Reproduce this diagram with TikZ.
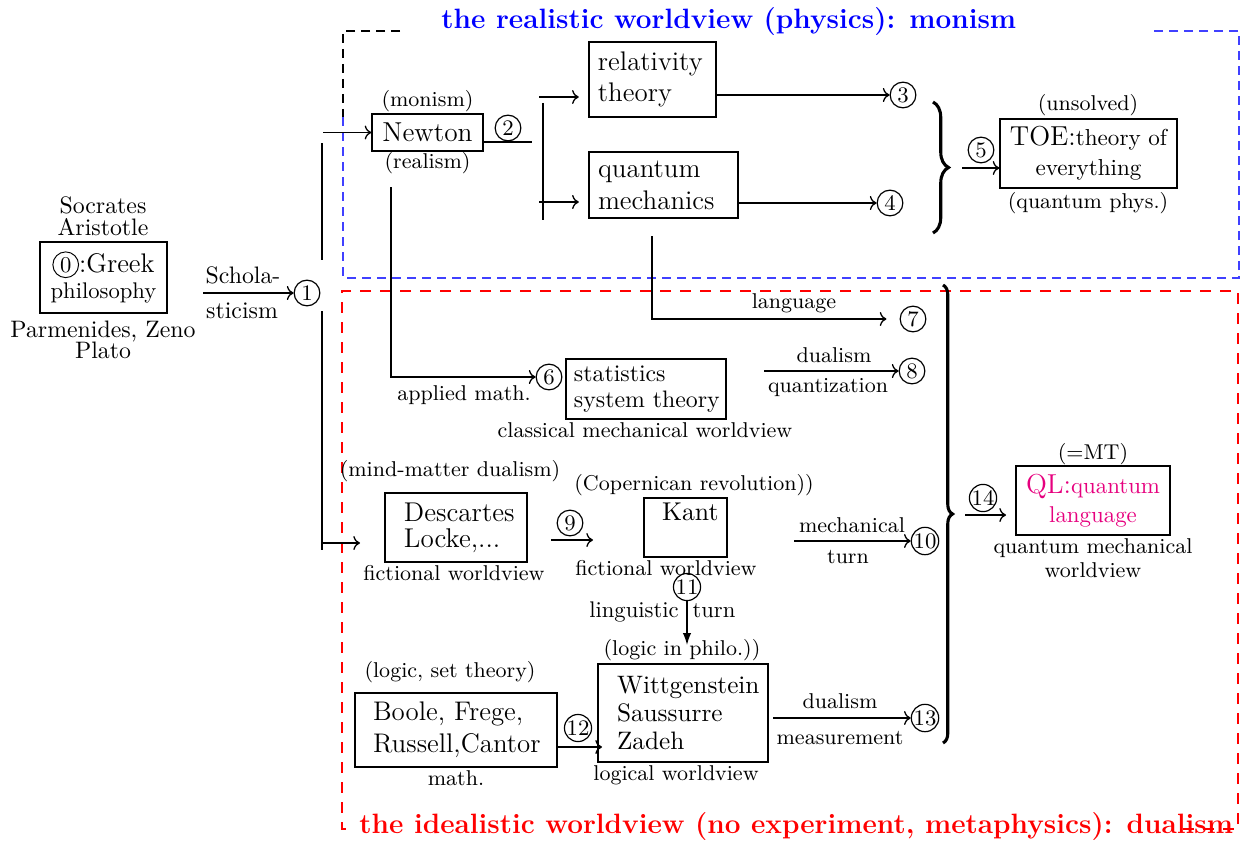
\documentclass[tikz,border=0pt]{standalone}
\usetikzlibrary{arrows.meta,decorations.pathreplacing}
\definecolor{qlcol}{RGB}{230,0,126}
\newcommand\fs[2]{\fontsize{#1}{#2}\selectfont}
\newcommand\circz{\tikz[baseline=(cz.base)]\node[circle,draw,inner sep=0pt,minimum size=10.8pt,anchor=center,font=\fs{9.5}{10}](cz){0};}
\begin{document}
\begin{tikzpicture}[x=0.42pt,y=-0.42pt,
  box/.style={draw,line width=0.55pt},
  num/.style={circle,draw,line width=0.5pt,inner sep=0pt,minimum size=10.8pt,font=\fs{9.3}{10}},
  lab/.style={inner sep=0pt,anchor=base,font=\fs{9}{10.5}},
  nlab/.style={inner sep=0pt,anchor=base,font=\fs{10}{12}},
  conn/.style={->,line width=0.55pt},
  plain/.style={line width=0.55pt},
  bigbrace/.style={decorate,line width=1.3pt},
  titlefont/.style={anchor=base west,inner sep=0pt,font=\fs{11.75}{14}\bfseries}
]
\useasboundingbox (0,0) rectangle (1245,846);

% frames
\draw[black,line width=0.5pt,dash pattern=on 3.9pt off 2.4pt] (400,31) -- (343,31) -- (343,117);
\draw[blue!75,line width=0.6pt,dash pattern=on 3.9pt off 2.4pt] (343,117) -- (343,278) -- (1239,278) -- (1239,31) -- (1152,31);
\draw[red,line width=1pt,dash pattern=on 4.8pt off 3.6pt] (1183,829) -- (1238,829) -- (1238,291) -- (342,291) -- (342,829) -- (352,829);
\node[titlefont,text=blue] (ttop) at (441,29) {the realistic worldview (physics): monism};
\node[titlefont,text=red] (tbot) at (359,833) {the idealistic worldview (no experiment, metaphysics): dualism};

% left part
\node[nlab] (socr) at (103,213) {Socrates};
\node[nlab] (arist) at (103,235) {Aristotle};
\node[box,minimum width=53.3pt,minimum height=29.8pt,inner sep=0pt,align=center,font=\fs{11.3}{11.3}] (greek) at (103.5,277.5) {\circz:Greek\\{\fs{9.5}{11.3}philosophy}};
\node[nlab] (parm) at (103,337) {Parmenides, Zeno};
\node[nlab] (plato) at (103,358) {Plato};
\node[num] (c1) at (307,293) {1};
\coordinate (a1) at (203,293);
\draw[conn] (a1) -- (c1);
\node[nlab] (schola) at (243,283) {Schola-};
\node[nlab] (stic) at (242,318) {sticism};

\coordinate (v1a) at (322,143); \coordinate (v1b) at (322,260);
\coordinate (v2a) at (322,311); \coordinate (v2b) at (322,550);
\draw[plain] (v1a) -- (v1b);
\draw[plain] (v2a) -- (v2b);

% physics
\node[box,minimum width=46.6pt,minimum height=15.5pt,inner sep=0pt,font=\fs{11.5}{13}] (newton) at (427.5,132.5) {Newton};
\node[lab] (monism) at (427.5,107) {(monism)};
\node[lab] (realism) at (427.5,168) {(realism)};
\coordinate (an) at (323,132.5);
\draw[conn] (an) -- (newton.west);
\coordinate (n2) at (532,142);
\draw[plain] (newton.east |- n2) -- (n2);
\node[num] (c2) at (508,128) {2};
\coordinate (s1) at (543,103); \coordinate (s2) at (543,220);
\draw[plain] (s1) -- (s2);

\node[box,text width=45.8pt,inner xsep=3.8pt,inner ysep=0pt,minimum height=31.5pt,align=left,font=\fs{11.3}{13}] (rel) at (652.5,79.5) {\mbox{relativity}\\theory};
\node[box,text width=55pt,inner xsep=3.8pt,inner ysep=0pt,minimum height=27.7pt,align=left,font=\fs{11.3}{13.4}] (qm) at (663.5,185) {quantum\\\mbox{mechanics}};
\coordinate (r1) at (539,97); \coordinate (q1) at (539,202);
\draw[conn,shorten >=4pt] (r1) -- (rel.west |- r1);
\draw[conn,shorten >=4pt] (q1) -- (qm.west |- q1);
\node[num] (c3) at (903,95) {3};
\node[num] (c4) at (890,203) {4};
\draw[conn] (rel.east |- c3) -- (c3);
\draw[conn] (qm.east |- c4) -- (c4);
\coordinate (b1t) at (933,102); \coordinate (b1b) at (933,233);
\draw[bigbrace,decoration={brace,amplitude=6.5pt}] (b1t) -- (b1b);
\node[box,minimum width=74.3pt,minimum height=29pt,inner sep=0pt,align=center,font=\fs{11.5}{12.6}] (toe) at (1088.5,153.5) {TOE:{\fs{9.7}{12.6}theory of}\\{\fs{9.7}{12.6}everything}};
\node[lab] (unsolved) at (1088,110) {(unsolved)};
\node[lab] (qphys) at (1088,208) {(quantum phys.)};
\coordinate (a5) at (962,168);
\draw[conn] (a5) -- (toe.west |- a5);
\node[num] (c5) at (981,150) {5};

% idealistic part
\coordinate (nv) at (391,187);
\node[num] (c6) at (549,377) {6};
\draw[conn] (nv) |- (c6);
\node[lab] (appl) at (464,400) {applied math.};
\node[box,text width=60.5pt,inner xsep=3.4pt,inner ysep=0pt,minimum height=25.2pt,align=left,font=\fs{10}{10.9}] (stat) at (646,389) {statistics\\\mbox{system theory}};
\node[lab] (classic) at (645,437) {classical mechanical worldview};

\coordinate (qv) at (652,236);
\node[num] (c7) at (913,319) {7};
\draw[conn,shorten >=5.5pt] (qv) |- (c7);
\node[lab] (lang) at (794,308) {language};

\coordinate (a8) at (764,371);
\node[num] (c8) at (912,371) {8};
\draw[conn] (a8) -- (c8);
\node[lab] (dual1) at (834,362) {dualism};
\node[lab] (quant) at (828,392) {quantization};

\node[lab] (mind) at (450,476) {(mind-matter dualism)};
\node[box,text width=43.7pt,inner xsep=8pt,inner ysep=0pt,minimum height=29pt,align=left,font=\fs{11.4}{10.9}] (desc) at (456,527.5) {\mbox{Descartes}\\\mbox{Locke,...}};
\node[lab] (fict1) at (454,580) {fictional worldview};
\coordinate (ad1) at (322,543); \coordinate (ad2) at (360,543);
\draw[conn] (ad1) -- (ad2);
\coordinate (a9s) at (551,540); \coordinate (a9e) at (593,540);
\draw[conn] (a9s) -- (a9e);
\node[num] (c9) at (570,523) {9};
\node[lab] (coper) at (694,490) {(Copernican revolution))};
\node[box,minimum width=34.9pt,minimum height=24.8pt,inner sep=0pt,align=center,font=\fs{10.8}{13}] (kant) at (685.5,527.5) {\hspace*{4pt}Kant\\\mbox{}};
\node[lab] (fict2) at (666,575) {fictional worldview};
\coordinate (a10) at (794,541);
\node[num] (c10) at (925,541) {10};
\draw[conn] (a10) -- (c10);
\node[lab] (mech) at (852,532) {mechanical};
\node[lab] (turn1) at (848,563) {turn};

\node[num] (c11) at (687,587) {11};
\coordinate (a11) at (687,645);
\draw[line width=0.55pt,-{Latex[length=5pt,width=3.5pt]}] (c11) -- (a11);
\node[lab,font=\fs{9.5}{11}] (ling) at (634,617) {linguistic};
\node[lab,font=\fs{9.5}{11}] (turn2) at (714,617) {turn};
\node[lab] (logphil) at (682,655) {(logic in philo.))};

\node[lab] (logset) at (450,677) {(logic, set theory)};
\node[box,text width=69.7pt,inner xsep=7.6pt,inner ysep=0pt,minimum height=31.1pt,align=left,font=\fs{11.3}{13.4}] (boole) at (456,730) {\mbox{Boole, Frege,}\\\mbox{Russell,Cantor}};
\node[lab] (math) at (456,785) {math.};
\node[box,text width=55.4pt,inner xsep=8pt,inner ysep=0pt,minimum height=41.2pt,align=left,font=\fs{10.6}{11.6}] (witt) at (683,713) {\mbox{Wittgenstein}\\Saussurre\\Zadeh};
\node[lab] (logw) at (676,780) {logical worldview};
\coordinate (a12) at (602,747);
\draw[conn] (boole.east |- a12) -- (a12);
\node[num] (c12) at (578,728) {12};
\node[num] (c13) at (925,718) {13};
\draw[conn,shorten <=2pt] (witt.east |- c13) -- (c13);
\node[lab] (dual2) at (840,708) {dualism};
\node[lab] (meas) at (840,744) {measurement};

\coordinate (b2t) at (943,285); \coordinate (b2b) at (943,743);
\draw[bigbrace,decoration={brace,amplitude=4pt}] (b2t) -- (b2b);
\coordinate (a14s) at (965,515); \coordinate (a14e) at (1006,515);
\draw[conn] (a14s) -- (a14e);
\node[num] (c14) at (983,498) {14};
\node[box,minimum width=64.7pt,minimum height=29pt,inner sep=0pt,align=center,text=qlcol,font=\fs{11.5}{12.2}] (ql) at (1093,500.5) {QL:{\fs{9.6}{12.2}quantum}\\{\fs{9.6}{12.2}language}};
\node[lab] (mt) at (1093,459) {(=MT)};
\node[lab] (qmw1) at (1093,553) {quantum mechanical};
\node[lab] (qmw2) at (1093,577) {worldview};
\end{tikzpicture}
\end{document}
